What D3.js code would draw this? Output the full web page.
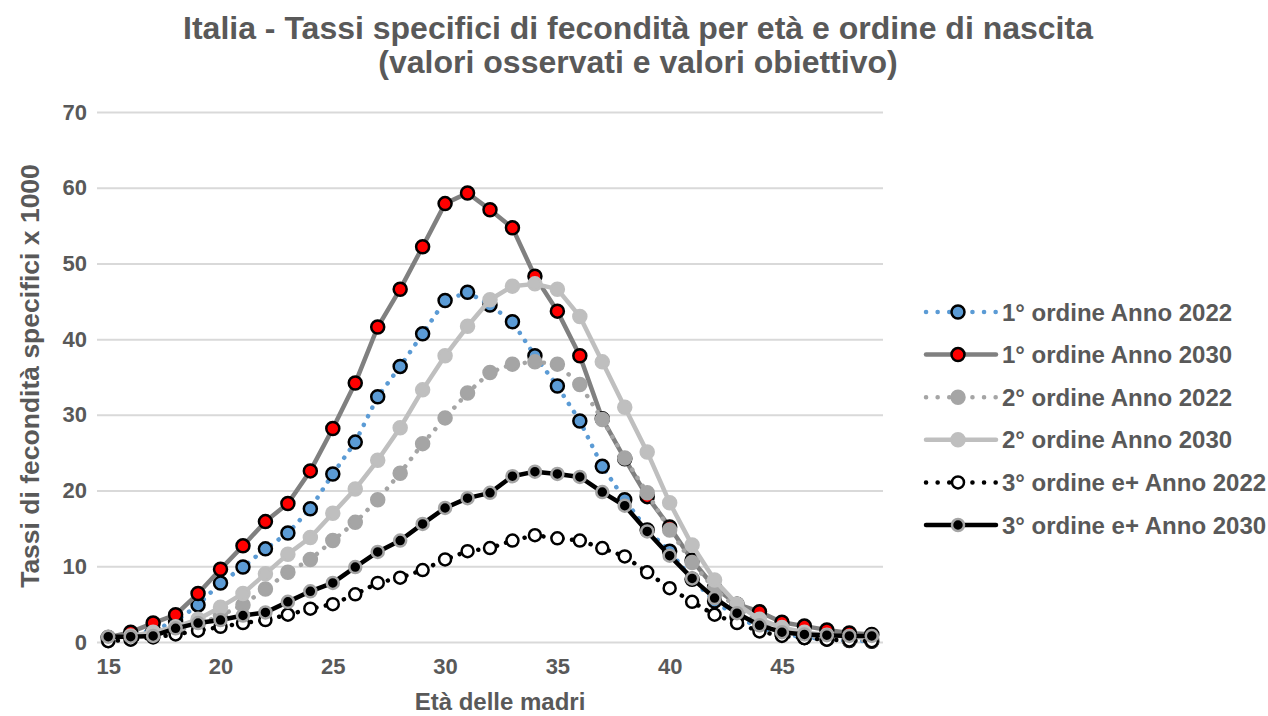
<!DOCTYPE html>
<html><head><meta charset="utf-8">
<script src="https://cdn.jsdelivr.net/npm/d3@7"></script>
<style>
html,body{margin:0;padding:0;background:#fff;}
svg{display:block;font-family:"Liberation Sans",Arial,sans-serif;}
</style></head>
<body><svg id="c" width="1268" height="716"></svg>
<script>
const ages = d3.range(15, 50);
const yTicks = [0,10,20,30,40,50,60,70];
const xTickLabels = [15,20,25,30,35,40,45];
const titleLines = ["Italia - Tassi specifici di fecondità per età e ordine di nascita","(valori osservati e valori obiettivo)"];
const xTitle = "Età delle madri";
const yTitle = "Tassi di fecondità specifici x 1000";
const seriesNames = ["1° ordine Anno 2022","1° ordine Anno 2030","2° ordine Anno 2022","2° ordine Anno 2030","3° ordine e+ Anno 2022","3° ordine e+ Anno 2030"];
const first2022 = [0.5,0.9,1.6,2.7,4.9,7.8,9.9,12.3,14.4,17.6,22.2,26.4,32.4,36.4,40.7,45.1,46.2,44.5,42.3,37.8,33.8,29.2,23.2,18.8,14.8,12.0,8.3,5.4,3.3,1.9,1.1,0.6,0.4,0.2,0.1];
const first2030 = [0.6,1.3,2.5,3.6,6.4,9.6,12.7,15.9,18.3,22.6,28.2,34.2,41.6,46.6,52.2,57.9,59.3,57.1,54.7,48.3,43.7,37.8,29.5,24.2,19.2,15.2,10.8,7.2,5.0,4.0,2.6,2.1,1.6,1.2,1.0];
const second2022 = [0.2,0.4,0.8,1.4,2.3,3.5,4.9,7.0,9.2,10.9,13.4,15.8,18.8,22.3,26.2,29.6,32.9,35.6,36.7,37.0,36.7,34.0,29.4,24.3,19.7,14.8,10.5,7.0,4.5,2.5,1.4,0.8,0.5,0.3,0.2];
const second2030 = [0.5,0.8,1.3,2.0,3.0,4.6,6.4,9.0,11.6,13.8,17.0,20.2,24.0,28.3,33.3,37.8,41.7,45.2,47.0,47.3,46.6,43.0,37.0,31.0,25.1,18.4,12.8,8.2,5.0,3.0,1.9,1.3,0.9,0.7,0.5];
const third2022 = [0.1,0.3,0.6,1.0,1.5,2.0,2.5,2.9,3.6,4.4,5.0,6.3,7.8,8.5,9.5,10.9,12.0,12.4,13.4,14.1,13.7,13.4,12.4,11.3,9.2,7.1,5.3,3.6,2.5,1.4,0.8,0.5,0.3,0.2,0.1];
const third2030 = [0.7,0.7,0.8,1.8,2.5,2.9,3.5,3.9,5.3,6.7,7.8,9.9,11.9,13.4,15.6,17.7,19.0,19.7,21.9,22.5,22.2,21.8,19.8,18.0,14.6,11.4,8.4,5.8,3.8,2.2,1.3,1.0,0.9,0.8,0.8];

const seriesValues = [first2022, first2030, second2022, second2030, third2022, third2030];
const styles = [
  {line:"#5B9BD5", w:4.5, dash:"0.1 9.5", fill:"#5B9BD5", stroke:"#000", sw:2.5, r:6.5},
  {line:"#808080", w:4.5, dash:null, fill:"#FF0000", stroke:"#000", sw:2.5, r:6.5},
  {line:"#A5A5A5", w:4.5, dash:"0.1 9.5", fill:"#A5A5A5", stroke:"#A5A5A5", sw:2.5, r:6.5},
  {line:"#BFBFBF", w:4.5, dash:null, fill:"#BFBFBF", stroke:"#BFBFBF", sw:2.5, r:6.5},
  {line:"#000000", w:4.5, dash:"0.1 9.5", fill:"#FFFFFF", stroke:"#000", sw:2.5, r:6},
  {line:"#000000", w:4.5, dash:null, fill:"#000000", stroke:"#A5A5A5", sw:2.5, r:6}
];

const svg = d3.select("#c");
const textCol = "#595959";
const x = d3.scalePoint().domain(ages).range([97, 883]).padding(0.5);
const y = d3.scaleLinear().domain([0, 70]).range([642, 112]);

// title
svg.append("g").selectAll("text").data(titleLines).join("text")
  .attr("x", 638).attr("y", (d,i)=>39 + i*34)
  .attr("text-anchor","middle").attr("font-size",32).attr("font-weight","bold")
  .attr("fill", textCol).text(d=>d);

// grid
const yAxis = d3.axisLeft(y).tickValues(yTicks).tickSize(-(883-97)).tickPadding(10);
const gy = svg.append("g").attr("transform","translate(97,0)").call(yAxis);
gy.select(".domain").remove();
gy.selectAll(".tick line").attr("stroke","#D9D9D9").attr("stroke-width",2);
gy.selectAll(".tick text").attr("font-size",22).attr("font-weight","bold").attr("fill",textCol)
  .attr("font-family","Liberation Sans, Arial, sans-serif");

const xAxis = d3.axisBottom(x).tickValues(xTickLabels).tickSize(0).tickPadding(16);
const gx = svg.append("g").attr("transform","translate(0,642)").call(xAxis);
gx.select(".domain").remove();
gx.selectAll(".tick text").attr("font-size",22).attr("font-weight","bold").attr("fill",textCol)
  .attr("font-family","Liberation Sans, Arial, sans-serif");

// axis titles
svg.append("text").attr("x",500).attr("y",710).attr("text-anchor","middle")
  .attr("font-size",24).attr("font-weight","bold").attr("fill",textCol).text(xTitle);
svg.append("text").attr("transform","translate(39,376) rotate(-90)").attr("text-anchor","middle")
  .attr("font-size",26.5).attr("font-weight","bold").attr("fill",textCol).text(yTitle);

// series
const line = d3.line().x((d,i)=>x(ages[i])).y(d=>y(d));
seriesValues.forEach((vals, si) => {
  const s = styles[si];
  const g = svg.append("g");
  g.append("path").datum(vals).attr("d", line).attr("fill","none")
    .attr("stroke", s.line).attr("stroke-width", s.w).attr("stroke-linecap","round")
    .attr("stroke-linejoin","round").attr("stroke-dasharray", s.dash);
  g.selectAll("circle").data(vals).join("circle")
    .attr("cx",(d,i)=>x(ages[i])).attr("cy", d=>y(d)).attr("r", s.r)
    .attr("fill", s.fill).attr("stroke", s.stroke).attr("stroke-width", s.sw);
});

// legend
const lg = svg.append("g");
seriesNames.forEach((name, i) => {
  const s = styles[i];
  const yy = 312 + i*42.6;
  lg.append("line").attr("x1",926).attr("x2",996).attr("y1",yy).attr("y2",yy)
    .attr("stroke", s.line).attr("stroke-width", s.w).attr("stroke-linecap","round")
    .attr("stroke-dasharray", s.dash ? "0.1 11.5" : null);
  lg.append("circle").attr("cx",958).attr("cy",yy).attr("r",s.r)
    .attr("fill", s.fill).attr("stroke", s.stroke).attr("stroke-width", s.sw);
  lg.append("text").attr("x",1002).attr("y",yy+8.5).attr("font-size",24).attr("font-weight","bold")
    .attr("fill",textCol).text(name);
});
</script>
</body></html>
